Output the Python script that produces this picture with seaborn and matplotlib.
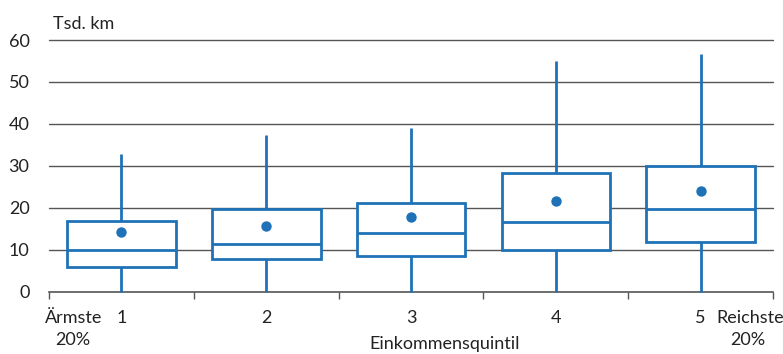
import matplotlib
matplotlib.use("Agg")
import matplotlib.pyplot as plt
import seaborn as sns
import pandas as pd

# Data (Tsd. km)
quintiles = ["1", "2", "3", "4", "5"]
whisker_low = [0, 0, 0, 0, 0]
q1 = [5.9, 7.8, 8.6, 10.0, 11.9]
median = [10.0, 11.5, 14.1, 16.6, 19.8]
q3 = [17.0, 19.8, 21.1, 28.3, 30.0]
whisker_high = [32.8, 37.5, 39.1, 54.9, 56.6]
means = [14.4, 15.6, 17.9, 21.7, 24.0]
yticks = [0, 10, 20, 30, 40, 50, 60]

BLUE = "#1f72b8"
GRID = "#555555"
TXT = "#222222"
FS = 13

rows = []
for i, q in enumerate(quintiles):
    for v in (whisker_low[i], q1[i], median[i], q3[i], whisker_high[i]):
        rows.append({"Quintil": q, "Wert": v})
df = pd.DataFrame(rows)
df_mean = pd.DataFrame({"Quintil": quintiles, "Mittel": means})

sns.set_style("white")
plt.rcParams["font.family"] = ["Lato", "DejaVu Sans"]

fig = plt.figure(figsize=(7.83, 3.54), dpi=100)
ax = fig.add_axes([49 / 783, 1 - 292 / 354, (773 - 49) / 783, (292 - 40) / 354])

for y in yticks[1:]:
    ax.axhline(y, color=GRID, lw=1.0, zorder=0)

sns.boxplot(data=df, x="Quintil", y="Wert", order=quintiles, whis=(0, 100),
            width=0.75, color="white", linecolor=BLUE, linewidth=2,
            showcaps=False, showfliers=False, fill=True, ax=ax, zorder=2)
sns.stripplot(data=df_mean, x="Quintil", y="Mittel", order=quintiles,
              jitter=False, color=BLUE, size=7.5, linewidth=0, ax=ax, zorder=5)

for coll in ax.collections:
    coll.set_clip_on(False)
for ln in ax.lines:
    ln.set_clip_on(False)

ax.set_xlim(-0.5, 4.5)
ax.set_ylim(0, 60)
ax.set_yticks(yticks)
ax.set_yticklabels([str(v) for v in yticks], fontsize=FS, color=TXT)
ax.set_xticks([-0.5, 0.5, 1.5, 2.5, 3.5, 4.5])
ax.set_xticklabels([])
ax.tick_params(axis="x", direction="out", length=5, width=1, color=GRID, bottom=True)
ax.tick_params(axis="y", length=0, pad=14)
for s in ["top", "right", "left"]:
    ax.spines[s].set_visible(False)
ax.spines["bottom"].set_color(GRID)
ax.spines["bottom"].set_linewidth(1.2)
ax.spines["bottom"].set_zorder(1)
ax.set_xlabel("")
ax.set_ylabel("")

for i, q in enumerate(quintiles):
    ax.text(i, -6.2, q, ha="center", va="center", fontsize=FS, color=TXT)
ax.text(-0.528, -6.2, "Ärmste", ha="left", va="center", fontsize=FS, color=TXT)
ax.text(-0.334, -11.4, "20%", ha="center", va="center", fontsize=FS, color=TXT)
ax.text(4.106, -6.2, "Reichste", ha="left", va="center", fontsize=FS, color=TXT)
ax.text(4.327, -11.4, "20%", ha="center", va="center", fontsize=FS, color=TXT)
ax.text(2.23, -12.3, "Einkommensquintil", ha="center", va="center", fontsize=FS, color=TXT)
fig.text(53 / 783, 1 - 24 / 354, "Tsd. km", ha="left", va="center", fontsize=FS, color=TXT)

fig.savefig("out.png", dpi=100, facecolor="white")
